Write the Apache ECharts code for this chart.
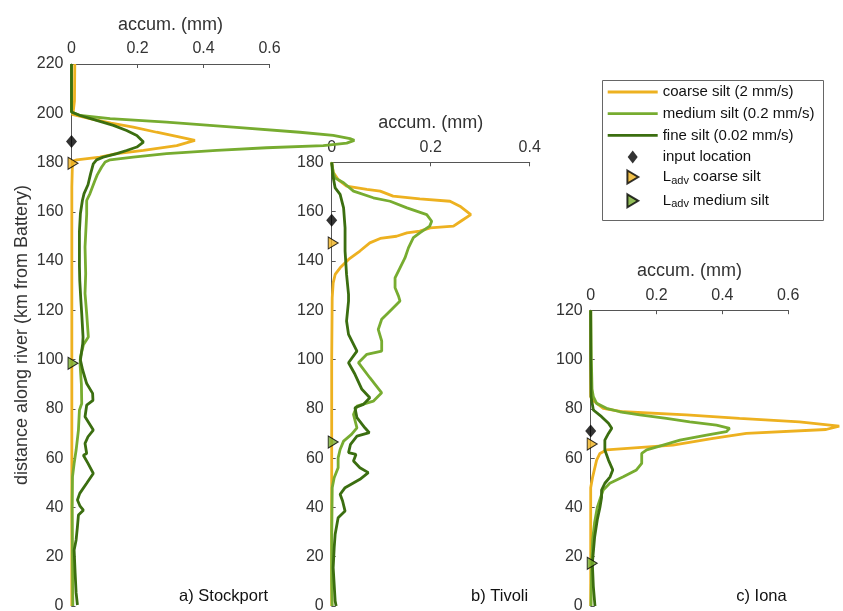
<!DOCTYPE html>
<html>
<head>
<meta charset="utf-8">
<script src="https://cdn.jsdelivr.net/npm/echarts@6/dist/echarts.min.js"></script>
<style>html,body{margin:0;padding:0;background:#fff}#chart{width:843px;height:611px}</style>
</head>
<body>
<div id="chart"></div>
<script>
// ---------- DATA ----------
const panelLabels = ['a) Stockport', 'b) Tivoli', 'c) Iona'];
const lineNames = ['coarse silt (2 mm/s)', 'medium silt (0.2 mm/s)', 'fine silt (0.02 mm/s)'];
const markerNames = ['input location', 'Ladv coarse silt', 'Ladv medium silt'];
const xMaxes = [0.6, 0.4, 0.6];
const yMaxes = [220, 180, 120];
const xAxisTitle = 'accum. (mm)';
const yAxisTitle = 'distance along river (km from Battery)';

// each point: [accum (mm), distance (km)]
const stockportCoarse = [[0.01,220],[0.009,205],[0.005,200.5],[0.002,199.5],[0.056,197.8],[0.12,196],[0.187,194.4],[0.258,192.3],[0.329,190.3],[0.374,189],[0.319,186.9],[0.218,184.9],[0.137,183.6],[0.086,182.2],[0.016,181.1],[0.003,180.5],[0.001,170],[0.001,100],[0.001,50],[0.001,0]];
const stockportMedium = [[0,220],[0,200.5],[0.026,199.1],[0.117,197.8],[0.288,196.4],[0.49,194.4],[0.692,192.3],[0.793,191],[0.844,189.7],[0.857,189],[0.834,187.9],[0.763,186.9],[0.591,186],[0.44,184.9],[0.288,183.6],[0.187,182.2],[0.117,181.1],[0.102,180.2],[0.091,178.1],[0.078,175],[0.071,172.7],[0.056,167.4],[0.046,164.6],[0.046,159],[0.041,145.7],[0.043,134.9],[0.041,126.8],[0.046,118.7],[0.051,109.2],[0.036,106],[0.027,101],[0.026,98],[0.03,90],[0.031,82.2],[0.024,79.5],[0.021,71.4],[0.014,63.3],[0.008,57.9],[0.003,52.4],[0.002,40],[0.003,20],[0.004,0]];
const stockportFine = [[0,220],[0,200.5],[0.026,199.1],[0.076,197.1],[0.127,195.1],[0.167,193],[0.198,191],[0.218,188.3],[0.198,186.3],[0.167,184.9],[0.137,183.6],[0.096,182.2],[0.076,181.1],[0.066,179.5],[0.058,175.5],[0.05,171],[0.038,167.4],[0.033,164.6],[0.027,159.3],[0.024,152],[0.024,145.7],[0.024,138],[0.025,132.2],[0.028,125],[0.031,118.7],[0.035,109.2],[0.034,106.5],[0.027,99.8],[0.034,95.7],[0.046,90.3],[0.064,86.3],[0.065,83.5],[0.046,81.5],[0.041,76.8],[0.066,71.4],[0.05,68.7],[0.041,66],[0.046,61.9],[0.036,61.2],[0.05,57.9],[0.066,53.8],[0.046,49.8],[0.025,45.7],[0.018,43],[0.026,40.5],[0.036,38.9],[0.021,36.9],[0.018,32.2],[0.014,26.8],[0.008,22.7],[0.011,13.4],[0.014,5.3],[0.018,0.4]];

const tivoliCoarse = [[0,180],[0.003,176],[0.013,173],[0.03,170.3],[0.071,169],[0.098,168.3],[0.124,166.3],[0.178,165.2],[0.239,164.2],[0.259,162.2],[0.281,158.8],[0.263,156.4],[0.246,154.1],[0.199,153.4],[0.178,152.1],[0.152,151.4],[0.131,150],[0.098,149.1],[0.077,147.3],[0.057,144],[0.034,140.6],[0.017,137.2],[0.007,134.5],[0.003,131.1],[0.001,125],[0,100],[0,50],[0,0]];
const tivoliMedium = [[0,180],[0.003,176],[0.007,173.6],[0.024,171.7],[0.044,168.3],[0.084,165.6],[0.118,164.2],[0.152,161.5],[0.192,158.8],[0.202,156.1],[0.198,154.1],[0.178,151.4],[0.165,149.4],[0.155,145.3],[0.148,141.2],[0.138,137.2],[0.128,133.1],[0.128,129.1],[0.135,125.7],[0.138,123.7],[0.121,120.3],[0.101,116.3],[0.094,112.2],[0.101,107.5],[0.101,103.4],[0.071,102.1],[0.054,98.7],[0.077,92.6],[0.101,86.5],[0.084,83.1],[0.051,81.1],[0.044,77.7],[0.051,72.3],[0.04,69.6],[0.024,66.9],[0.017,63.5],[0.013,60.1],[0.013,56.1],[0.005,52],[0.001,48],[0,30],[0,10],[0.001,0]];
const tivoliFine = [[0,180],[0.002,175],[0.007,169.6],[0.017,167],[0.024,161.5],[0.027,153.4],[0.027,144],[0.03,134.5],[0.034,126.4],[0.034,123.7],[0.03,115.6],[0.034,110.2],[0.051,103.4],[0.034,98.7],[0.047,94],[0.061,87.9],[0.077,84.5],[0.064,81.8],[0.047,80.4],[0.051,76.4],[0.067,72.3],[0.076,70.3],[0.051,68.9],[0.038,65.6],[0.034,62.2],[0.049,61.5],[0.044,58.8],[0.057,56.1],[0.074,54.1],[0.057,51.4],[0.027,48],[0.017,45.3],[0.022,42.6],[0.027,38.5],[0.013,35.8],[0.007,29.1],[0.005,23.6],[0.003,15.5],[0.007,2],[0.009,0]];

const ionaCoarse = [[0,120],[0,100],[0,85],[0.003,84],[0.013,82.8],[0.038,80.2],[0.099,78.8],[0.291,77.5],[0.452,76.1],[0.634,74.7],[0.755,73],[0.715,71.6],[0.473,70],[0.372,68],[0.25,65.3],[0.048,63.3],[0.028,61.9],[0.018,59.2],[0.006,52.4],[0,48],[0,20],[0,0]];
const ionaMedium = [[0,120],[0.002,100],[0.004,88],[0.008,84.9],[0.018,82.2],[0.048,80.2],[0.089,78.8],[0.149,77.5],[0.23,76.1],[0.301,74.7],[0.382,73.4],[0.422,72.1],[0.412,70.7],[0.352,69.3],[0.271,67.3],[0.22,65.3],[0.17,63.3],[0.155,61.9],[0.155,57.9],[0.139,55.2],[0.099,52.4],[0.058,49.8],[0.038,47],[0.03,44],[0.02,40],[0.012,34],[0.006,27],[0.003,17.3],[0.001,0]];
const ionaFine = [[0,120],[0,100],[0.001,85],[0.008,79.5],[0.033,76.8],[0.054,74.1],[0.064,72.1],[0.054,70],[0.043,67.3],[0.043,63.3],[0.054,59.2],[0.067,55.2],[0.059,52.4],[0.043,49.8],[0.033,47],[0.033,44],[0.028,40],[0.02,35],[0.012,28],[0.005,17.3],[0.008,8],[0.013,0]];

// marker distances (km): [input location, L_adv coarse, L_adv medium]
const stockportMarkers = [188.5, 179.7, 98.5];
const tivoliMarkers = [156.5, 147.3, 66.5];
const ionaMarkers = [71, 65.7, 17.3];

// ---------- STYLE / LAYOUT ----------
const FONT = 'Liberation Sans, Arial, Helvetica, sans-serif';
const lineColors = ['#EDB120', '#77AC30', '#3B6E10'];
const markerColors = ['#000000', '#EDB120', '#77AC30'];
const diamondPath = 'path://M5,0L10,6.5L5,13L0,6.5Z';
const triPath = 'path://M0,0L10,6L0,12Z';
const linePath = 'path://M0,0L50,0L50,2.8L0,2.8Z';
const markerSymbols = [diamondPath, triPath, triPath];
const markerSizes = [[11, 13], [10, 12], [10, 12]];
const markerOffsets = [[0, 0], [1.5, 0], [1.5, 0]];
const grids = [
  {left: 71.5, top: 64, width: 198, height: 542},
  {left: 331.7, top: 162.3, width: 198, height: 443.7},
  {left: 590.7, top: 310.2, width: 197.5, height: 295.8}
];
// wider (hidden) plotting areas so curves may run past the visible axis end
const plotXMaxes = [0.9, 0.4, 0.8];
const panelData = [
  [stockportCoarse, stockportMedium, stockportFine],
  [tivoliCoarse, tivoliMedium, tivoliFine],
  [ionaCoarse, ionaMedium, ionaFine]
];
const panelMarkers = [stockportMarkers, tivoliMarkers, ionaMarkers];

const axisColor = '#555';
const labelColor = '#333';

const allGrids = [], xAxes = [], yAxes = [], series = [], titles = [];
grids.forEach((g, i) => {
  allGrids.push(Object.assign({outerBoundsMode: 'none', containLabel: false}, g));
  xAxes.push({
    type: 'value', gridIndex: i, position: 'top', min: 0, max: xMaxes[i], interval: 0.2,
    name: xAxisTitle, nameLocation: 'middle', nameGap: 30, nameMoveOverlap: false,
    nameTextStyle: {fontSize: 18, color: labelColor, fontFamily: FONT},
    axisLine: {show: true, onZero: false, lineStyle: {color: axisColor, width: 1}},
    axisTick: {show: true, inside: true, length: 4, lineStyle: {color: axisColor}},
    axisLabel: {fontSize: 16, color: labelColor, fontFamily: FONT, margin: 7, hideOverlap: false},
    splitLine: {show: false}
  });
  const ya = {
    type: 'value', gridIndex: i, min: 0, max: yMaxes[i], interval: 20,
    axisLine: {show: true, onZero: false, lineStyle: {color: axisColor, width: 1}},
    axisTick: {show: true, inside: true, length: 4, lineStyle: {color: axisColor}},
    axisLabel: {fontSize: 16, color: labelColor, fontFamily: FONT, margin: 8, hideOverlap: false},
    splitLine: {show: false}
  };
  if (i === 0) {
    Object.assign(ya, {
      name: yAxisTitle, nameLocation: 'middle', nameGap: 40, nameRotate: 90, nameMoveOverlap: false,
      nameTextStyle: {fontSize: 18, color: labelColor, fontFamily: FONT}
    });
  }
  yAxes.push(ya);

  titles.push({
    text: panelLabels[i], right: 843 - (g.left + g.width - 1.5), top: 588, padding: 0,
    textStyle: {fontSize: 16.5, fontWeight: 'normal', color: '#111', fontFamily: FONT}
  });
});

// hidden plotting grids (same y scale, identical px per mm on x)
grids.forEach((g, i) => {
  const gi = grids.length + i;
  allGrids.push({left: g.left, top: g.top, height: g.height,
    width: g.width * plotXMaxes[i] / xMaxes[i], outerBoundsMode: 'none', containLabel: false});
  xAxes.push({type: 'value', gridIndex: gi, show: false, min: 0, max: plotXMaxes[i],
    splitLine: {show: false}});
  yAxes.push({type: 'value', gridIndex: gi, show: false, min: 0, max: yMaxes[i],
    splitLine: {show: false}});

  panelData[i].forEach((d, k) => {
    series.push({
      type: 'line', name: lineNames[k], xAxisIndex: gi, yAxisIndex: gi,
      data: d, symbol: 'none', showSymbol: false, clip: false, smooth: false,
      color: lineColors[k], lineStyle: {color: lineColors[k], width: 2.8},
      z: 2 + k, animation: false, silent: true
    });
  });
  panelMarkers[i].forEach((km, k) => {
    series.push({
      type: 'scatter', name: markerNames[k], xAxisIndex: gi, yAxisIndex: gi,
      data: [[0, km]], symbol: markerSymbols[k], symbolSize: markerSizes[k],
      symbolKeepAspect: false, symbolOffset: markerOffsets[k],
      clip: false, color: markerColors[k],
      itemStyle: {color: markerColors[k], borderColor: '#000', borderWidth: k === 0 ? 0 : 1},
      z: 10, animation: false, silent: true
    });
  });
});

const legendText = {
  fontSize: 15, color: '#111', fontFamily: FONT,
  rich: {
    n: {fontSize: 15, lineHeight: 15, fontFamily: FONT, color: '#111'},
    sub: {fontSize: 11, lineHeight: 11, padding: [7, 0, 0, 0], fontFamily: FONT, color: '#111'}
  }
};
const legendFormatter = function (name) {
  if (name.indexOf('Ladv') === 0) {
    return '{n|L}{sub|adv}{n|' + name.slice(4) + '}';
  }
  return name;
};

const option = {
  animation: false,
  backgroundColor: '#fff',
  title: titles,
  grid: allGrids,
  xAxis: xAxes,
  yAxis: yAxes,
  series: series,
  legend: [{
    orient: 'vertical', left: 607.7, top: 84.5, padding: 0,
    itemWidth: 50, itemHeight: 13, itemGap: 6.7, selectedMode: false, symbolKeepAspect: true,
    data: lineNames.map((n, k) => ({name: n, icon: linePath, itemStyle: {color: lineColors[k]}}))
      .concat([{name: markerNames[0], icon: markerSymbols[0]}]),
    textStyle: legendText, formatter: legendFormatter
  }, {
    orient: 'vertical', left: 626.4, top: 168, padding: 0,
    itemWidth: 50, itemHeight: 13, itemGap: 5.8, selectedMode: false, symbolKeepAspect: true,
    data: markerNames.slice(1).map((n, k) => ({name: n, icon: markerSymbols[k + 1]})),
    textStyle: legendText, formatter: legendFormatter
  }],
  graphic: [{
    type: 'rect', silent: true,
    shape: {x: 602.5, y: 80.5, width: 221, height: 140},
    style: {fill: 'none', stroke: '#666', lineWidth: 1}
  }]
};

const chart = echarts.init(document.getElementById('chart'), null, {renderer: 'canvas'});
chart.setOption(option);
</script>
</body>
</html>
